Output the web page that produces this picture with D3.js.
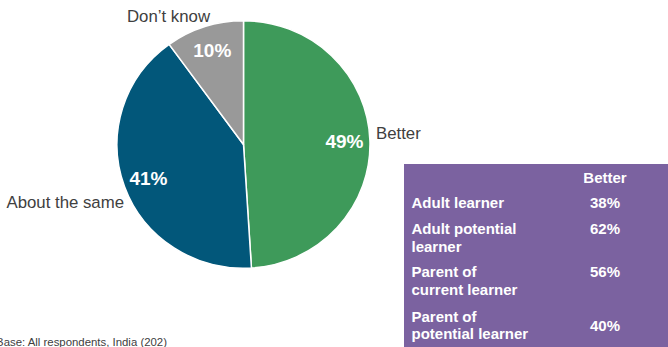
<!DOCTYPE html>
<html>
<head>
<meta charset="utf-8">
<script src="https://cdn.jsdelivr.net/npm/d3@7"></script>
<style>
  html, body { margin: 0; padding: 0; background: #fff; }
  svg { display: block; font-family: "Liberation Sans", Arial, sans-serif; }
</style>
</head>
<body>
<svg id="chart" width="668" height="347"></svg>
<script>
// Pie: opinion split
const categories = ["Better", "About the same", "Don\u2019t know"];
const shares = [49, 41, 10];
const sliceColors = ["#3e9a5a", "#02577a", "#999999"];

// Side table: share answering "Better" by respondent group
const tableHeader = "Better";
const groupLines = [
  ["Adult learner"],
  ["Adult potential", "learner"],
  ["Parent of", "current learner"],
  ["Parent of", "potential learner"]
];
const groupBetter = [38, 62, 56, 40];

const baseNote = "Base: All respondents, India (202)";

const svg = d3.select("#chart");

// ---- pie ----
const cx = 243.5, cy = 144.5, r = 126.5, squash = 0.978;
const pie = d3.pie().sort(null).value(d => d).startAngle(0);
const arcs = pie(shares);
const arc = d3.arc().innerRadius(0).outerRadius(r);
const labelArc = d3.arc().innerRadius(101).outerRadius(101);

const g = svg.append("g").attr("transform", `translate(${cx},${cy}) scale(1,${squash})`);
g.selectAll("path.slice")
  .data(arcs)
  .join("path")
  .attr("class", "slice")
  .attr("d", arc)
  .attr("fill", (d, i) => sliceColors[i])
  .attr("stroke", "#fff")
  .attr("stroke-width", 1.5)
  .attr("stroke-linejoin", "round");

// value labels inside the slices
const lg = svg.append("g").attr("transform", `translate(${cx},${cy})`);
lg.selectAll("text.val")
  .data(arcs)
  .join("text")
  .attr("class", "val")
  .attr("x", d => labelArc.centroid(d)[0])
  .attr("y", d => labelArc.centroid(d)[1] * squash)
  .attr("dy", "0.36em")
  .attr("text-anchor", "middle")
  .attr("fill", "#fff")
  .attr("font-weight", "bold")
  .attr("font-size", 19)
  .text(d => d.data + "%");

// category names outside the pie (placed relative to pie centre)
const nameLayout = [
  { x: 132.5, y: -5.5, anchor: "start" },
  { x: -119.5, y: 63.5, anchor: "end" },
  { x: -75, y: -122.5, anchor: "middle" }
];
lg.selectAll("text.name")
  .data(categories)
  .join("text")
  .attr("class", "name")
  .attr("x", (d, i) => nameLayout[i].x)
  .attr("y", (d, i) => nameLayout[i].y)
  .attr("text-anchor", (d, i) => nameLayout[i].anchor)
  .attr("fill", "#404040")
  .attr("font-size", 16.8)
  .text(d => d);

// ---- table ----
const tbl = { x: 404, y: 164, w: 264, h: 183 };
svg.append("rect")
  .attr("x", tbl.x).attr("y", tbl.y)
  .attr("width", tbl.w).attr("height", tbl.h)
  .attr("fill", "#7b62a0");

const textX = 411.5, valX = 605, lineH = 17.7;
const headerBase = 182.5;
const rowTops = [207.7, 234, 277, 321.5];   // baseline of first line in each row

const tg = svg.append("g")
  .attr("fill", "#fff")
  .attr("font-weight", "bold")
  .attr("font-size", 15);

tg.append("text")
  .attr("x", valX).attr("y", headerBase)
  .attr("text-anchor", "middle")
  .text(tableHeader);

const rows = tg.selectAll("g.row")
  .data(groupLines.map((lines, i) => ({ lines, v: groupBetter[i], y: rowTops[i] })))
  .join("g").attr("class", "row");

rows.each(function (d) {
  const t = d3.select(this).append("text").attr("x", textX).attr("y", d.y);
  d.lines.forEach((ln, j) => {
    t.append("tspan").attr("x", textX).attr("dy", j === 0 ? 0 : lineH).text(ln);
  });
});

rows.append("text")
  .attr("x", valX)
  .attr("y", (d, i) => i === groupLines.length - 1 ? d.y + lineH / 2 + 1 : d.y)
  .attr("text-anchor", "middle")
  .text(d => d.v + "%");

// ---- footnote ----
svg.append("text")
  .attr("x", 167).attr("y", 346)
  .attr("text-anchor", "end")
  .attr("fill", "#404040")
  .attr("font-size", 11.4)
  .text(baseNote);
</script>
</body>
</html>
